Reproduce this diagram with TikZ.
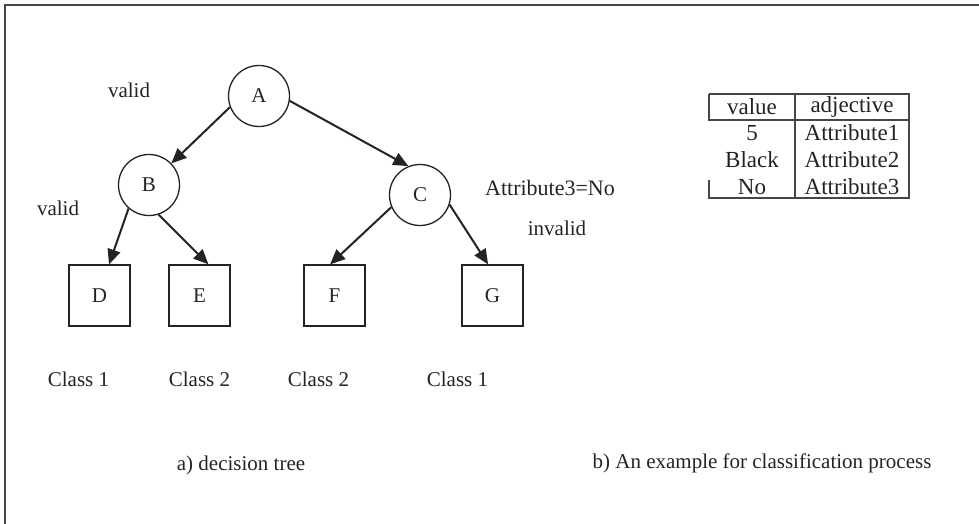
\documentclass[tikz,border=0pt]{standalone}
\usepackage{fontspec}
\setmainfont{Liberation Serif}
\usetikzlibrary{arrows.meta, positioning}
\definecolor{inkgray}{RGB}{35,35,35}
\definecolor{framegray}{RGB}{70,70,70}

\begin{document}
\begin{tikzpicture}[
    x=1pt, y=-1pt,
    txt/.style={font=\fontsize{21}{25}\selectfont, text=inkgray, inner sep=0pt},
    cell/.style={font=\fontsize{23}{27}\selectfont, text=inkgray, inner sep=0pt},
    tnode/.style={circle, draw=inkgray, line width=1.3pt, minimum size=61pt, inner sep=0pt, font=\fontsize{21}{25}\selectfont, text=inkgray},
    leaf/.style={rectangle, draw=inkgray, line width=1.3pt, minimum size=61pt, inner sep=0pt, font=\fontsize{21}{25}\selectfont, text=inkgray},
    arrow/.style={-{Triangle[length=15pt, width=13pt]}, line width=2pt, draw=inkgray},
    rule/.style={line width=1.4pt, draw=framegray}
]
\useasboundingbox (0,0) rectangle (979,524);

% frame (top and left only)
\draw[rule, line width=1.6pt] (979,5) -- (5,5) -- (5,524);

% decision tree
\node[tnode] (A) at (259,96) {A};
\node[tnode] (B) at (149,185) {B};
\node[tnode] (C) at (420,195) {C};
\node[leaf] (D) at (99.5,295.5) {D};
\node[leaf] (E) at (199.5,295.5) {E};
\node[leaf] (F) at (334.5,295.5) {F};
\node[leaf] (G) at (492.5,295.5) {G};

\draw[arrow] (A.201) -- (B.44);
\draw[arrow] (A.351) -- (C.112);
\draw[arrow] (B.229) -- (D.73);
\draw[arrow] (B.288) -- (E.74);
\draw[arrow] (C.203) -- (F.98);
\draw[arrow] (C.342) -- (G.98);

\node[txt] (va) at (129,90) {valid};
\node[txt] (vb) at (58,208) {valid};
\node[txt, font=\fontsize{22}{26}\selectfont] (cond) at (550,188) {Attribute3=No};
\node[txt] (inv) at (557,228) {invalid};

\node[txt, below=45pt of D, xshift=-21pt] (cD) {Class 1};
\node[txt, below=45pt of E] (cE) {Class 2};
\node[txt, below=45pt of F, xshift=-16pt] (cF) {Class 2};
\node[txt, below=45pt of G, xshift=-35pt] (cG) {Class 1};

% table
\draw[rule] (709,94) -- (909,94) -- (909,198) -- (709,198) -- (709,180);
\draw[rule] (709,94) -- (709,120) -- (909,120);
\draw[rule] (795,94) -- (795,198);
\node[cell] (h1) at (752,107) {value};
\node[cell] (h2) at (852,107) {adjective};
\node[cell] (v1) at (752,133) {5};
\node[cell] (a1) at (852,133) {Attribute1};
\node[cell] (v2) at (752,160) {Black};
\node[cell] (a2) at (852,160) {Attribute2};
\node[cell] (v3) at (752,187) {No};
\node[cell] (a3) at (852,187) {Attribute3};

% captions
\node[txt] (capa) at (241,465) {a) decision tree};
\node[txt] (capb) at (762,463) {b) An example for classification process};
\end{tikzpicture}
\end{document}
